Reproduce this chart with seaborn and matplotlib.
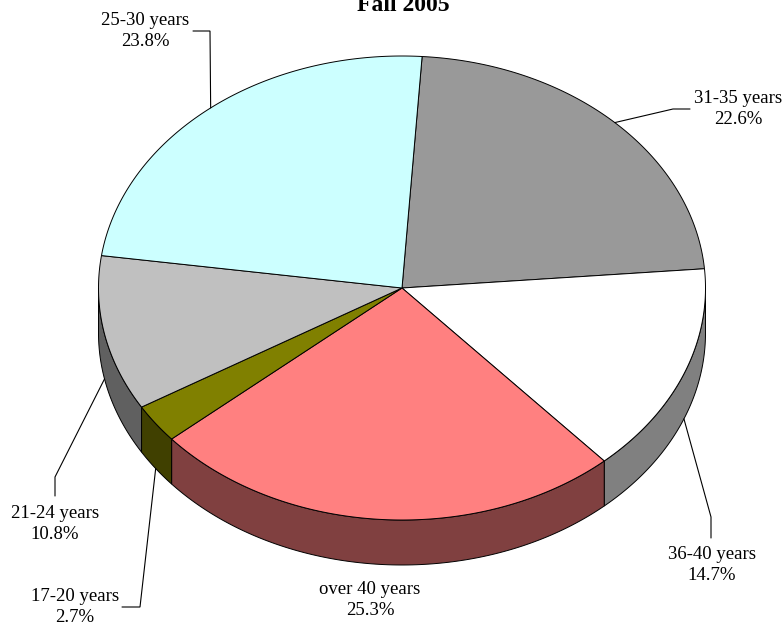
import numpy as np
import matplotlib
matplotlib.use("Agg")
import matplotlib.pyplot as plt
import seaborn as sns
from matplotlib.patches import Polygon

# ---- data (clockwise from 12 o'clock) ----
categories = ["31-35 years", "36-40 years", "over 40 years", "17-20 years", "21-24 years", "25-30 years"]
shares = [22.6, 14.7, 25.3, 2.7, 10.8, 23.8]
top_colors = ["#999999", "#FFFFFF", "#FF8080", "#808000", "#C0C0C0", "#CCFFFF"]
side_colors = ["#4C4C4C", "#808080", "#804040", "#404000", "#606060", "#668080"]
title = "Fall 2005"

sns.set_theme(style="white")
plt.rcParams['font.family'] = ['Liberation Serif', 'DejaVu Serif']

fig = plt.figure(figsize=(7.84, 6.29), dpi=100)
ax = fig.add_axes([0, 0, 1, 1])
ax.set_xlim(0, 784)
ax.set_ylim(629, 0)
ax.axis('off')

# layout of the 3-D pie
CX, CY, RX, RY, DEPTH = 402, 288, 303.5, 232, 45
T0 = 3.8
LW = 0.7

fr = np.array(shares) / sum(shares)
edges = T0 + 360 * np.concatenate([[0], np.cumsum(fr)])


def pt(t_deg, drop=0.0):
    t = np.radians(t_deg)
    return CX + RX * np.sin(t), CY - RY * np.cos(t) + drop


# side walls (front half only)
for i in range(len(shares)):
    a, b = edges[i], edges[i + 1]
    lo, hi = max(a, 90), min(b, 270)
    if lo < hi:
        ts = np.linspace(lo, hi, 120)
        xs, ys = pt(ts)
        xb, yb = pt(ts[::-1], DEPTH)
        poly = np.column_stack([np.concatenate([xs, xb]), np.concatenate([ys, yb])])
        ax.add_patch(Polygon(poly, closed=True, facecolor=side_colors[i],
                             edgecolor="black", linewidth=LW, joinstyle="miter"))

# top faces
for i in range(len(shares)):
    a, b = edges[i], edges[i + 1]
    ts = np.linspace(a, b, 200)
    xs, ys = pt(ts)
    poly = np.column_stack([np.concatenate([[CX], xs]), np.concatenate([[CY], ys])])
    ax.add_patch(Polygon(poly, closed=True, facecolor=top_colors[i],
                         edgecolor="black", linewidth=LW, joinstyle="miter"))

# labels with leader lines
label_pos = [(738, 109), (712, 565), (370, 600), (75, 607), (55, 524), (145, 31)]
leader_mid = [(673, 109), (711, 517), None, (140, 607), (55, 477), (210, 31)]
leader_end = [(690, 109), (711, 538), None, (122, 607), (55, 496), (193, 31)]

for i, cat in enumerate(categories):
    mid = (edges[i] + edges[i + 1]) / 2
    front = np.cos(np.radians(mid)) < 0
    sx, sy = pt(mid, DEPTH if front else 0)
    if leader_mid[i] is not None:
        mx, my = leader_mid[i]
        ex, ey = leader_end[i]
        ax.plot([sx, mx, ex], [sy, my, ey], color="black", lw=0.8,
                solid_joinstyle="miter")
    lx, ly = label_pos[i]
    ax.text(lx, ly, f"{cat}\n{shares[i]:.1f}%", ha="center", va="center",
            multialignment="center", fontsize=13.5, linespacing=1.36, color="black")

ax.text(403, 11, title, ha="center", va="baseline", fontsize=17,
        fontweight="bold", color="black")

fig.savefig("out.png", dpi=100)
